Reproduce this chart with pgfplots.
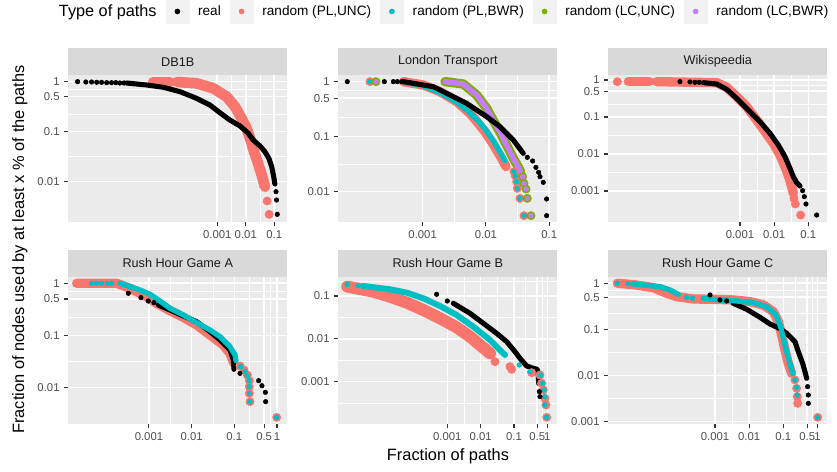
\documentclass[border=0pt]{standalone}
\usepackage{pgfplots}
\pgfplotsset{compat=1.18}
\usepackage{fontspec}
\setmainfont{Liberation Sans}

\definecolor{ggpanel}{HTML}{EBEBEB}
\definecolor{ggstrip}{HTML}{D9D9D9}
\definecolor{ggkey}{HTML}{F2F2F2}
\definecolor{gg10}{HTML}{1A1A1A}
\definecolor{gg20}{HTML}{333333}
\definecolor{gg30}{HTML}{4D4D4D}
\definecolor{plunc}{HTML}{F8766D}
\definecolor{plbwr}{HTML}{00BFC4}
\definecolor{lcunc}{HTML}{7CAE00}
\definecolor{lcbwr}{HTML}{C77CFF}

% all coordinates are log10 of the fractions (both axes log scaled)
\pgfplotsset{
  ggpanel/.style={
    scale only axis, width=164.25pt, height=110.5pt, anchor=south west,
    axis background/.style={fill=ggpanel},
    axis x line*=bottom, axis y line*=left, axis line style={draw=none},
    grid=both,
    major grid style={white, line width=1.2pt},
    minor grid style={white, line width=0.6pt},
    tick align=outside, major tick length=3pt, minor tick length=0pt,
    tick style={gg20, line width=0.8pt},
    ticklabel style={font=\fontsize{8.5}{10}\selectfont, text=gg30},
    enlargelimits=false,
  },
  rl/.style={draw=black, line width=3.8pt, line cap=round, line join=round, no marks, forget plot},
  rp/.style={only marks, mark=*, mark size=1.7pt, black, forget plot},
  ul/.style={draw=plunc, line width=7pt, line cap=round, line join=round, no marks, forget plot},
  up/.style={only marks, mark=*, mark size=3.1pt, plunc, forget plot},
  bl/.style={draw=plbwr, line width=4pt, line cap=round, line join=round, no marks, forget plot},
  bp/.style={only marks, mark=*, mark size=1.8pt, plbwr, forget plot},
  gl/.style={draw=lcunc, line width=7pt, line cap=round, line join=round, no marks, forget plot},
  gp/.style={only marks, mark=*, mark size=3.1pt, lcunc, forget plot},
  vl/.style={draw=lcbwr, line width=4pt, line cap=round, line join=round, no marks, forget plot},
  vp/.style={only marks, mark=*, mark size=1.8pt, lcbwr, forget plot},
  keyimg/.style={legend image code/.code={
      \fill[ggkey] (0pt,-8.6pt) rectangle (17.25pt,8.6pt);
      \fill[#1] (8.625pt,0pt) circle (1.9pt);}},
}

\begin{document}
\begin{tikzpicture}
\path[use as bounding box] (0,0) rectangle (627.75pt,353.25pt);

% ---------------- DB1B ----------------
\begin{axis}[ggpanel, at={(51.2pt,186.5pt)},
  xmin=-8.228, xmax=-0.544, ymin=-2.813, ymax=0.133,
  xtick={-3,-2,-1}, xticklabels={0.001,0.01,0.1}, minor xtick={-2.5,-1.5},
  ytick={-2,-1,-0.30103,0}, yticklabels={0.01,0.1,0.5,1},
  minor ytick={-1.5,-0.6505,-0.1505},
  legend style={at={(axis description cs:-0.0836,1.431)}, anchor=west,
    draw=none, fill=none, inner sep=0pt, outer sep=0pt,
    legend columns=-1, /tikz/column sep=6.75pt,
    font=\fontsize{10.2}{12}\selectfont, nodes={inner sep=0pt}}]
\addlegendimage{empty legend}
\addlegendentry{\fontsize{12.2}{14}\selectfont Type of paths}
\addlegendimage{keyimg=black}
\addlegendentry{real}
\addlegendimage{keyimg=plunc}
\addlegendentry{random (PL,UNC)}
\addlegendimage{keyimg=plbwr}
\addlegendentry{random (PL,BWR)}
\addlegendimage{keyimg=lcunc}
\addlegendentry{random (LC,UNC)}
\addlegendimage{keyimg=lcbwr}
\addlegendentry{random (LC,BWR)}

\addplot[ul, line width=8pt] coordinates {(-5.25,-0.01) (-4.66,-0.01)};
\addplot[ul, line width=8pt] coordinates {
  (-4.40,-0.007) (-3.73,-0.033) (-3.14,-0.133) (-2.67,-0.3) (-2.38,-0.5)
  (-2.15,-0.733) (-1.97,-0.933) (-1.83,-1.167) (-1.71,-1.4) (-1.57,-1.633)
  (-1.44,-1.867) (-1.33,-2.1)};
\addplot[up] coordinates {(-1.25,-2.387) (-1.18,-2.653)};
\addplot[rl] coordinates {
  (-6.18,-0.027) (-5.48,-0.067) (-4.89,-0.113) (-4.31,-0.2) (-3.73,-0.333)
  (-3.26,-0.467) (-2.91,-0.62) (-2.56,-0.767) (-2.20,-0.887) (-1.91,-1.033)
  (-1.74,-1.167) (-1.50,-1.287) (-1.33,-1.4) (-1.19,-1.533) (-1.09,-1.7)
  (-1.02,-1.9) (-0.98,-2.047)};
\addplot[rp] coordinates {
  (-7.90,0) (-7.61,-0.007) (-7.41,-0.007) (-7.23,-0.013) (-7.06,-0.013)
  (-6.88,-0.02) (-6.71,-0.02) (-6.56,-0.02) (-6.42,-0.027) (-6.27,-0.027)
  (-0.94,-2.2) (-0.92,-2.367) (-0.895,-2.653)};
\end{axis}

% ---------------- London Transport ----------------
\begin{axis}[ggpanel, at={(253.7pt,186.5pt)},
  xmin=-4.332, xmax=-0.874, ymin=-2.557, ymax=0.121,
  xtick={-3,-2,-1}, xticklabels={0.001,0.01,0.1}, minor xtick={-2.5,-1.5},
  ytick={-2,-1,-0.30103,0}, yticklabels={0.01,0.1,0.5,1},
  minor ytick={-1.5,-0.6505,-0.1505}]
\addplot[ul] coordinates {
  (-3.305,0) (-2.989,-0.061) (-2.726,-0.182) (-2.463,-0.364) (-2.253,-0.576)
  (-2.121,-0.758) (-2.016,-0.909) (-1.911,-1.091) (-1.832,-1.242)
  (-1.753,-1.394) (-1.684,-1.545)};
\addplot[up] coordinates {
  (-3.832,0) (-1.558,-1.636) (-1.537,-1.715) (-1.516,-1.818) (-1.505,-1.939)
  (-1.463,-2.121) (-1.4,-2.436)};
\addplot[bl] coordinates {
  (-3.279,-0.012) (-2.989,-0.073) (-2.726,-0.2) (-2.463,-0.37) (-2.253,-0.564)
  (-2.095,-0.745) (-1.963,-0.939) (-1.858,-1.121) (-1.753,-1.333) (-1.7,-1.436)};
\addplot[bp] coordinates {
  (-3.832,0) (-1.558,-1.636) (-1.537,-1.715) (-1.516,-1.818) (-1.505,-1.939)
  (-1.463,-2.121) (-1.4,-2.436)};
\addplot[gl] coordinates {
  (-2.647,0) (-2.358,-0.042) (-2.147,-0.242) (-1.989,-0.485) (-1.874,-0.727)
  (-1.768,-0.939) (-1.674,-1.152) (-1.595,-1.333) (-1.516,-1.497) (-1.453,-1.636)};
\addplot[gp] coordinates {
  (-3.737,0) (-1.421,-1.727) (-1.4,-1.848) (-1.368,-1.952) (-1.347,-2.121)
  (-1.289,-2.436)};
\addplot[vl] coordinates {
  (-2.647,0) (-2.358,-0.042) (-2.147,-0.242) (-1.989,-0.485) (-1.874,-0.727)
  (-1.768,-0.939) (-1.674,-1.152) (-1.595,-1.333) (-1.516,-1.497) (-1.453,-1.636)};
\addplot[vp] coordinates {
  (-3.737,0) (-1.421,-1.727) (-1.4,-1.848) (-1.368,-1.952) (-1.347,-2.121)
  (-1.289,-2.436)};
\addplot[rl] coordinates {
  (-3.305,0) (-2.832,-0.091) (-2.305,-0.394) (-1.989,-0.636) (-1.779,-0.818)
  (-1.568,-1.061) (-1.411,-1.303)};
\addplot[rp] coordinates {
  (-4.19,0) (-3.605,0) (-3.463,0) (-3.4,0) (-3.33,0) (-1.347,-1.376)
  (-1.263,-1.442) (-1.211,-1.558) (-1.168,-1.648) (-1.147,-1.727)
  (-1.095,-1.83) (-1.042,-2.133) (-1.042,-2.436)};
\end{axis}

% ---------------- Wikispeedia ----------------
\begin{axis}[ggpanel, at={(456.2pt,186.5pt)},
  xmin=-6.854, xmax=-0.445, ymin=-3.846, ymax=0.135,
  xtick={-3,-2,-1}, xticklabels={0.001,0.01,0.1}, minor xtick={-2.5,-1.5},
  ytick={-3,-2,-1,-0.30103,0}, yticklabels={0.001,0.01,0.1,0.5,1},
  minor ytick={-2.5,-1.5,-0.6505,-0.1505}]
\addplot[ul] coordinates {(-6.268,-0.045) (-5.654,-0.045)};
\addplot[ul] coordinates {
  (-5.439,-0.045) (-3.683,-0.072) (-3.39,-0.198) (-3.098,-0.45) (-2.805,-0.721)
  (-2.512,-1.081) (-2.268,-1.396) (-2.024,-1.712) (-1.829,-2.027)
  (-1.683,-2.342) (-1.556,-2.658) (-1.488,-2.883) (-1.439,-3.063)};
\addplot[up] coordinates {(-6.59,-0.045) (-1.42,-3.198) (-1.38,-3.351) (-1.224,-3.649)};
\addplot[rl] coordinates {
  (-4.073,-0.072) (-3.683,-0.108) (-3.39,-0.252) (-3.098,-0.495) (-2.805,-0.766)
  (-2.415,-1.126) (-2.122,-1.441) (-1.878,-1.757) (-1.683,-2.072)
  (-1.537,-2.387) (-1.439,-2.613) (-1.341,-2.775) (-1.244,-2.865)};
\addplot[rp] coordinates {
  (-4.756,-0.045) (-4.463,-0.054) (-4.317,-0.063) (-4.19,-0.063)
  (-1.166,-2.991) (-1.117,-3.153) (-1.068,-3.351) (-0.756,-3.649)};
\end{axis}

% ---------------- Rush Hour Game A ----------------
\begin{axis}[ggpanel, at={(51.2pt,35.25pt)},
  xmin=-4.891, xmax=0.241, ymin=-2.696, ymax=0.127,
  xtick={-3,-2,-1,-0.30103,0}, xticklabels={0.001,0.01,0.1,0.5,1},
  minor xtick={-2.5,-1.5,-0.6505,-0.1505},
  ytick={-2,-1,-0.30103,0}, yticklabels={0.01,0.1,0.5,1},
  minor ytick={-1.5,-0.6505,-0.1505}]
\addplot[ul] coordinates {
  (-4.695,0) (-3.758,0) (-3.445,-0.096) (-3.055,-0.256) (-2.82,-0.383)
  (-2.508,-0.524) (-2.195,-0.652) (-1.883,-0.799) (-1.57,-0.99)
  (-1.258,-1.182) (-1.102,-1.342) (-1.008,-1.534)};
\addplot[up] coordinates {
  (-0.867,-1.585) (-0.773,-1.661) (-0.695,-1.757) (-0.648,-1.866)
  (-0.648,-1.981) (-0.648,-2.109) (-0.633,-2.268) (-0.008,-2.569)};
\addplot[rl] coordinates {
  (-2.781,-0.415) (-2.508,-0.511) (-2.195,-0.626) (-1.883,-0.735) (-1.57,-0.927)
  (-1.336,-1.086) (-1.102,-1.278) (-1.023,-1.47) (-1.008,-1.649)};
\addplot[rp] coordinates {
  (-3.484,-0.192) (-3.188,-0.275) (-3.016,-0.339) (-2.883,-0.371)
  (-0.867,-1.725) (-0.43,-1.866) (-0.352,-1.962) (-0.273,-2.089) (-0.266,-2.268)};
\addplot[bl] coordinates {
  (-3.68,0) (-3.445,-0.064) (-3.211,-0.128) (-2.977,-0.211) (-2.742,-0.339)
  (-2.508,-0.479) (-2.195,-0.607) (-1.883,-0.754) (-1.57,-0.895)
  (-1.336,-1.022) (-1.102,-1.214) (-0.984,-1.374) (-0.961,-1.482)};
\addplot[bp] coordinates {
  (-4.344,0) (-4.227,0) (-4.109,0) (-3.977,0) (-3.875,0) (-0.852,-1.597)
  (-0.75,-1.693) (-0.695,-1.776) (-0.648,-1.866) (-0.648,-1.981)
  (-0.648,-2.109) (-0.633,-2.268) (-0.008,-2.569)};
\end{axis}

% ---------------- Rush Hour Game B ----------------
\begin{axis}[ggpanel, at={(253.7pt,35.25pt)},
  xmin=-6.271, xmax=0.299, ymin=-3.989, ymax=-0.549,
  xtick={-3,-2,-1,-0.30103,0}, xticklabels={0.001,0.01,0.1,0.5,1},
  minor xtick={-2.5,-1.5,-0.6505,-0.1505},
  ytick={-3,-2,-1}, yticklabels={0.001,0.01,0.1},
  minor ytick={-3.5,-2.5,-1.5,-0.6505}]
\addplot[ul, line width=9pt] coordinates {
  (-6.0,-0.782) (-5.22,-0.899) (-4.72,-1.016) (-4.22,-1.156) (-3.72,-1.327)
  (-3.22,-1.521) (-2.72,-1.732) (-2.32,-1.949) (-2.02,-2.144) (-1.72,-2.339)};
\addplot[up] coordinates {
  (-1.57,-2.533) (-1.12,-2.65) (-1.07,-2.712) (-0.47,-2.79) (-0.22,-2.844)
  (-0.17,-3.039) (-0.12,-3.195) (-0.07,-3.389) (-0.04,-3.545) (-0.02,-3.833)};
\addplot[bl, line width=4.5pt] coordinates {
  (-5.52,-0.767) (-4.72,-0.844) (-4.22,-0.922) (-3.72,-1.054) (-3.22,-1.233)
  (-2.72,-1.444) (-2.22,-1.716) (-1.72,-2.027) (-1.42,-2.261) (-1.27,-2.377)};
\addplot[bp] coordinates {
  (-6.0,-0.728) (-5.67,-0.759) (-0.84,-2.611) (-0.52,-2.767) (-0.2,-2.844)
  (-0.14,-3.039) (-0.1,-3.195) (-0.07,-3.35) (-0.07,-3.545) (-0.02,-3.833)};
\addplot[rl] coordinates {
  (-2.82,-1.171) (-2.32,-1.405) (-1.92,-1.638) (-1.52,-1.872) (-1.22,-2.066)
  (-0.97,-2.3) (-0.82,-2.455) (-0.62,-2.634) (-0.42,-2.689) (-0.3,-2.712)
  (-0.27,-2.883) (-0.26,-3.039)};
\addplot[rp] coordinates {(-3.32,-0.961) (-3.0,-1.117) (-0.24,-3.233) (-0.22,-3.35)};
\end{axis}

% ---------------- Rush Hour Game C ----------------
\begin{axis}[ggpanel, at={(456.2pt,35.25pt)},
  xmin=-6.123, xmax=0.287, ymin=-3.058, ymax=0.144,
  xtick={-3,-2,-1,-0.30103,0}, xticklabels={0.001,0.01,0.1,0.5,1},
  minor xtick={-2.5,-1.5,-0.6505,-0.1505},
  ytick={-3,-2,-1,-0.30103,0}, yticklabels={0.001,0.01,0.1,0.5,1},
  minor ytick={-2.5,-1.5,-0.6505,-0.1505}]
\addplot[ul] coordinates {
  (-5.859,0) (-5.39,-0.029) (-4.805,-0.094) (-4.415,-0.217) (-4.122,-0.29)
  (-3.634,-0.341) (-3.049,-0.348) (-2.463,-0.362) (-1.976,-0.399)
  (-1.585,-0.471) (-1.293,-0.616) (-1.146,-0.833) (-1.049,-1.123)
  (-0.951,-1.449) (-0.854,-1.739) (-0.756,-1.957)};
\addplot[up] coordinates {
  (-0.659,-2.101) (-0.61,-2.283) (-0.59,-2.464) (-0.58,-2.609) (0.005,-2.913)};
\addplot[rl] coordinates {
  (-2.463,-0.435) (-2.073,-0.565) (-1.683,-0.739) (-1.39,-0.884) (-1.098,-0.986)
  (-0.902,-1.087) (-0.659,-1.268) (-0.561,-1.486) (-0.434,-1.739)
  (-0.366,-1.92) (-0.317,-2.065)};
\addplot[rp] coordinates {
  (-3.146,-0.254) (-2.854,-0.362) (-2.659,-0.384) (-0.288,-2.246)
  (-0.268,-2.428) (-0.268,-2.609)};
\addplot[bl] coordinates {
  (-5.39,-0.014) (-4.61,-0.072) (-4.317,-0.145) (-4.073,-0.239)};
\addplot[bl] coordinates {
  (-3.341,-0.326) (-2.854,-0.362) (-2.366,-0.384) (-1.878,-0.42) (-1.488,-0.507)
  (-1.215,-0.688) (-1.078,-0.942) (-1.0,-1.196) (-0.902,-1.486)
  (-0.805,-1.739) (-0.727,-1.957)};
\addplot[bp] coordinates {
  (-5.859,0) (-5.537,-0.007) (-3.829,-0.304) (-3.654,-0.326) (-0.659,-2.101)
  (-0.61,-2.261) (-0.59,-2.428) (0.005,-2.913)};
\end{axis}

% facet strips
\foreach \xl/\lab in {51.2/DB1B, 253.7/London Transport, 456.2/Wikispeedia} {
  \fill[ggstrip] (\xl pt,297pt) rectangle ++(164.25pt,20pt);
  \node[font=\fontsize{9.5}{11}\selectfont, text=gg10] at ([xshift=82.125pt]\xl pt,307pt) {\lab};
}
\foreach \xl/\lab in {51.2/Rush Hour Game A, 253.7/Rush Hour Game B, 456.2/Rush Hour Game C} {
  \fill[ggstrip] (\xl pt,145.75pt) rectangle ++(164.25pt,20pt);
  \node[font=\fontsize{9.5}{11}\selectfont, text=gg10] at ([xshift=82.125pt]\xl pt,155.75pt) {\lab};
}

% axis titles
\node[rotate=90, font=\fontsize{12.3}{14}\selectfont] at (15pt,166.1pt)
  {Fraction of nodes used by at least x \% of the paths};
\node[font=\fontsize{12.3}{14}\selectfont] at (336pt,11.25pt) {Fraction of paths};
\end{tikzpicture}
\end{document}
